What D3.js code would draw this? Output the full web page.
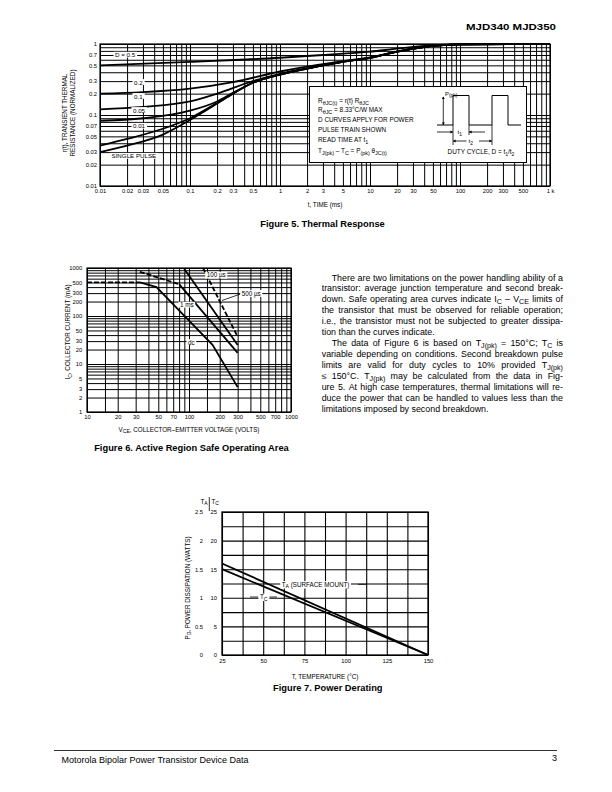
<!DOCTYPE html>
<html><head><meta charset="utf-8">
<script src="https://cdn.jsdelivr.net/npm/d3@7"></script>
<style>
html,body{margin:0;padding:0;background:#fff}
svg{display:block}
</style></head><body>
<svg id="page" width="612" height="792"></svg>
<script>
// ================= DATA =================
// Figure 5 – Thermal response (t in ms, r(t) normalized)
const fig5TimeTicks  = [0.01,0.02,0.03,0.05,0.1,0.2,0.3,0.5,1,2,3,5,10,20,30,50,100,200,300,500,1000];
const fig5TimeLabels = ["0.01","0.02","0.03","0.05","0.1","0.2","0.3","0.5","1","2","3","5","10","20","30","50","100","200","300","500","1 k"];
const fig5RTicks  = [1,0.7,0.5,0.3,0.2,0.1,0.07,0.05,0.03,0.02,0.01];
const fig5RLabels = ["1","0.7","0.5","0.3","0.2","0.1","0.07","0.05","0.03","0.02","0.01"];
const curveD05    = [[0.01,0.5],[0.1,0.56],[1,0.64],[3,0.7],[10,0.78],[20,0.86],[50,0.96],[100,0.99],[1000,1]];
const curveD02    = [[0.01,0.2],[0.03,0.21],[0.1,0.235],[0.3,0.29],[1,0.41],[2,0.48],[3,0.52],[5,0.575],[10,0.65],[20,0.78],[50,0.94],[100,0.99],[1000,1]];
const curveD01    = [[0.01,0.12],[0.03,0.13],[0.1,0.155],[0.2,0.2],[0.5,0.3],[1,0.38],[2,0.455],[3,0.5],[5,0.565],[10,0.64],[20,0.78],[50,0.94],[100,0.99],[1000,1]];
const curveD005   = [[0.01,0.083],[0.03,0.09],[0.1,0.115],[0.2,0.155],[0.3,0.205],[0.5,0.285],[1,0.37],[2,0.45],[3,0.5],[5,0.56],[10,0.64],[20,0.78],[50,0.94],[100,0.99],[1000,1]];
const curveD001   = [[0.01,0.037],[0.02,0.046],[0.05,0.064],[0.1,0.09],[0.2,0.148],[0.3,0.2],[0.5,0.285],[1,0.37],[2,0.45],[3,0.5],[5,0.56],[10,0.64],[20,0.78],[50,0.94],[100,0.99],[1000,1]];
const curveSingle = [[0.01,0.03],[0.02,0.037],[0.05,0.053],[0.1,0.085],[0.2,0.145],[0.3,0.2],[0.5,0.285],[1,0.37],[2,0.45],[3,0.5],[5,0.56],[10,0.64],[20,0.78],[50,0.94],[100,0.99],[1000,1]];
const fig5CurveNames = ["D = 0.5","0.2","0.1","0.05","0.01","SINGLE PULSE"];

// Figure 6 – Safe operating area (VCE volts, IC mA)
const fig6VTicks  = [10,20,30,50,70,100,200,300,500,700,1000];
const fig6VLabels = ["10","20","30","50","70","100","200","300","500","700","1000"];
const fig6ITicks  = [1000,500,300,200,100,50,30,20,10,5,3,2,1];
const fig6ILabels = ["1000","500","300","200","100","50","30","20","10","5","3","2","1"];
const socDcDashed  = [[10,500],[33,500]];
const socDc        = [[33,500],[48,400],[100,80],[170,25],[300,3.3]];
const soc1msDashed = [[33,830],[80,460]];
const soc1ms       = [[80,460],[300,17]];
const soc500us     = [[90,950],[300,25]];
const soc100us     = [[137,1000],[300,37]];

// Figure 7 – Power derating
const fig7TempTicks = [25,50,75,100,125,150];
const fig7TATicks   = [0,0.5,1,1.5,2,2.5];
const fig7TCTicks   = [0,5,10,15,20,25];
const fig7Temp      = [25,150];
const fig7PdTA      = [1.6,0];   // watts, T_A (surface mount), left scale
const fig7PdTC      = [15,0];    // watts, T_C, right scale

// Body text
const paraLines = [
 {w:"There are two limitations on the power handling ability of a", indent:true, just:true},
 {w:"transistor: average junction temperature and second break-", just:true},
 {w:"down. Safe operating area curves indicate I_{C} – V_{CE} limits of", just:true},
 {w:"the transistor that must be observed for reliable operation;", just:true},
 {w:"i.e., the transistor must not be subjected to greater dissipa-", just:true},
 {w:"tion than the curves indicate.", just:false},
 {w:"The data of Figure 6 is based on T_{J(pk)} = 150°C; T_{C} is", indent:true, just:true},
 {w:"variable depending on conditions. Second breakdown pulse", just:true},
 {w:"limits are valid for duty cycles to 10% provided T_{J(pk)}", just:true},
 {w:"≤ 150°C. T_{J(pk)} may be calculated from the data in Fig-", just:true},
 {w:"ure 5. At high case temperatures, thermal limitations will re-", just:true},
 {w:"duce the power that can be handled to values less than the", just:true},
 {w:"limitations imposed by second breakdown.", just:false}
];

// ================= HELPERS =================
const FONT = '"Liberation Sans", Arial, Helvetica, sans-serif';
const svg = d3.select("#page");

function rich(g, x, y, str, size, opts = {}) {
  const t = g.append("text").attr("x", x).attr("y", y)
    .attr("font-size", size).attr("font-family", FONT).attr("fill", "#000");
  if (opts.anchor) t.attr("text-anchor", opts.anchor);
  if (opts.weight) t.attr("font-weight", opts.weight);
  if (opts.transform) t.attr("transform", opts.transform);
  const subShift = opts.sub ?? size * 0.28;
  const subSize = opts.subSize ?? 0.8;
  const parts = str.split(/(_\{[^}]*\})/);
  let cur = 0;
  parts.forEach(p => {
    if (!p) return;
    const m = p.match(/^_\{([^}]*)\}$/);
    if (m) { t.append("tspan").attr("dy", subShift - cur).attr("font-size", size * subSize).text(m[1]); cur = subShift; }
    else { t.append("tspan").attr("dy", -cur).text(p); cur = 0; }
  });
  return t;
}
function boxed(g, x, y, str, size, opts = {}) {
  const gg = g.append("g");
  const t = rich(gg, x, y, str, size, opts);
  const b = t.node().getBBox();
  const pad = opts.pad ?? 1.5;
  gg.insert("rect", "text").attr("x", b.x - pad).attr("y", b.y + 0.6)
    .attr("width", b.width + 2 * pad).attr("height", b.height - 1.2).attr("fill", "#fff");
  return gg;
}
function decadeGrid(lo, hi, mults) {
  const a = [];
  for (let e = lo; e < hi; e++) mults.forEach(m => a.push(+(m * Math.pow(10, e)).toPrecision(6)));
  a.push(Math.pow(10, hi));
  return a;
}
function grid(g, axisFn, scale, values, size, transform, sw) {
  g.append("g").attr("transform", transform)
    .call(axisFn(scale).tickValues(values).tickSize(size).tickFormat(""))
    .call(s => { s.select(".domain").remove(); s.selectAll("line").attr("stroke", "#000").attr("stroke-width", sw); });
}
function labels(g, axisFn, scale, values, labs, transform, pad, fs) {
  g.append("g").attr("transform", transform)
    .call(axisFn(scale).tickValues(values).tickSize(0).tickPadding(pad).tickFormat((d, i) => labs[i]))
    .call(s => { s.select(".domain").remove(); s.selectAll("line").remove();
      s.selectAll("text").attr("font-size", fs).attr("font-family", FONT).attr("fill", "#000"); });
}

// ================= HEADER / FOOTER =================
svg.append("text").attr("x", 556).attr("y", 29.5).attr("text-anchor", "end")
  .attr("font-family", FONT).attr("font-weight", 900).attr("font-size", 8.6)
  .attr("textLength", 90).attr("lengthAdjust", "spacingAndGlyphs").text("MJD340 MJD350");
svg.append("line").attr("x1", 54).attr("x2", 557).attr("y1", 750.5).attr("y2", 750.5).attr("stroke", "#000").attr("stroke-width", 0.8);
rich(svg, 61.5, 763, "Motorola Bipolar Power Transistor Device Data", 9);
rich(svg, 557, 760.5, "3", 9, {anchor: "end"});

// ================= FIGURE 5 =================
{
  const g = svg.append("g");
  const L = 100, R = 550, T = 44, B = 186;
  const x = d3.scaleLog().domain([0.01, 1000]).range([L, R]);
  const y = d3.scaleLog().domain([0.01, 1]).range([B, T]);
  const m9 = [1,2,3,4,5,6,7,8,9];
  grid(g, d3.axisBottom, x, decadeGrid(-2, 3, m9), -(B - T), `translate(0,${B})`, 1);
  grid(g, d3.axisLeft, y, decadeGrid(-2, 0, m9), -(R - L), `translate(${L},0)`, 1);
  g.append("rect").attr("x", L).attr("y", T).attr("width", R - L).attr("height", B - T)
    .attr("fill", "none").attr("stroke", "#000").attr("stroke-width", 1.2);
  labels(g, d3.axisBottom, x, fig5TimeTicks, fig5TimeLabels, `translate(0,${B})`, 2.6, 5.8);
  labels(g, d3.axisLeft, y, fig5RTicks, fig5RLabels, `translate(${L},0)`, 3, 5.8);

  const line = d3.line().x(d => x(d[0])).y(d => y(d[1])).curve(d3.curveMonotoneX);
  [curveD05, curveD02, curveD01, curveD005, curveD001, curveSingle].forEach(c => {
    g.append("path").attr("d", line(c)).attr("fill", "none").attr("stroke", "#000").attr("stroke-width", 1.8);
  });
  boxed(g, 115, 57.2, fig5CurveNames[0], 6.2);
  boxed(g, 134, 84.5, fig5CurveNames[1], 6.2);
  boxed(g, 134, 98.5, fig5CurveNames[2], 6.2);
  boxed(g, 133, 112.5, fig5CurveNames[3], 6.2);
  boxed(g, 133, 128.3, fig5CurveNames[4], 6.2);
  boxed(g, 111.5, 158.3, fig5CurveNames[5], 6.2);

  // info box
  g.append("rect").attr("x", 309.5).attr("y", 86.5).attr("width", 217).attr("height", 76)
    .attr("fill", "#fff").attr("stroke", "#000").attr("stroke-width", 1);
  const info = ["R_{θJC(t)} = r(t) R_{θJC}", "R_{θJC} = 8.33°C/W MAX", "D CURVES APPLY FOR POWER",
                "PULSE TRAIN SHOWN", "READ TIME AT t_{1}", "T_{J(pk)} – T_{C} = P_{(pk)} θ_{JC(t)}"];
  const infoY = [103, 112, 122.3, 132.3, 142.3, 153];
  info.forEach((s, i) => rich(g, 318, infoY[i], s, 6.4, {sub: 1.6, subSize: 0.85}));
  // pulse waveform diagram
  g.append("path").attr("d", "M437,125H453V95.5H469V125H492V95.5H508V125H521")
    .attr("fill", "none").attr("stroke", "#000").attr("stroke-width", 1);
  const tri = (cx, cy, dir) => {
    const s = 2.6, w = 1.5;
    let p;
    if (dir === "up") p = `M${cx},${cy}L${cx - w},${cy + s}L${cx + w},${cy + s}Z`;
    if (dir === "down") p = `M${cx},${cy}L${cx - w},${cy - s}L${cx + w},${cy - s}Z`;
    if (dir === "right") p = `M${cx},${cy}L${cx - s},${cy - w}L${cx - s},${cy + w}Z`;
    if (dir === "left") p = `M${cx},${cy}L${cx + s},${cy - w}L${cx + s},${cy + w}Z`;
    g.append("path").attr("d", p).attr("fill", "#000");
  };
  const ln = (x1, y1, x2, y2) => g.append("line").attr("x1", x1).attr("y1", y1).attr("x2", x2).attr("y2", y2).attr("stroke", "#000").attr("stroke-width", 0.8);
  ln(443.3, 97, 443.3, 125); tri(443.3, 96.5, "up"); tri(443.3, 125, "down");
  rich(g, 445, 95.5, "P_{(pk)}", 5.8, {sub: 1.5, subSize: 0.85});
  ln(453, 125, 453, 145); ln(469, 125, 469, 135); ln(492, 125, 492, 145);
  ln(437, 132, 453, 132); tri(453, 132, "right");
  ln(469, 132, 485, 132); tri(469, 132, "left");
  rich(g, 457.5, 134.3, "t_{1}", 6.2, {sub: 1.5});
  ln(453, 141, 466.5, 141); tri(453, 141, "left");
  ln(479, 141, 492, 141); tri(492, 141, "right");
  rich(g, 468.5, 143.3, "t_{2}", 6.2, {sub: 1.5});
  rich(g, 481, 154, "DUTY CYCLE, D = t_{1}/t_{2}", 6.4, {anchor: "middle", sub: 1.5});

  // axis titles
  rich(g, 67.2, 113, "r(t), TRANSIENT THERMAL", 6.3, {anchor: "middle", transform: "rotate(-90,67.2,113)"});
  rich(g, 74.6, 113, "RESISTANCE (NORMALIZED)", 6.3, {anchor: "middle", transform: "rotate(-90,74.6,113)"});
  rich(g, 325, 207.3, "t, TIME (ms)", 6.3, {anchor: "middle"});
  rich(g, 322.5, 226.5, "Figure 5. Thermal Response", 9.3, {anchor: "middle", weight: "bold"});
}

// ================= FIGURE 6 =================
{
  const g = svg.append("g");
  const L = 87, R = 291, T = 268, B = 412;
  const x = d3.scaleLog().domain([10, 1000]).range([L, R]);
  const y = d3.scaleLog().domain([1, 1000]).range([B, T]);
  grid(g, d3.axisBottom, x, decadeGrid(1, 3, [1,1.5,2,3,4,5,6,7,8,9]), -(B - T), `translate(0,${B})`, 1);
  grid(g, d3.axisLeft, y, decadeGrid(0, 3, [1,2,3,4,5,6,7,8,9]), -(R - L), `translate(${L},0)`, 1);
  g.append("rect").attr("x", L).attr("y", T).attr("width", R - L).attr("height", B - T)
    .attr("fill", "none").attr("stroke", "#000").attr("stroke-width", 1.2);
  labels(g, d3.axisBottom, x, fig6VTicks, fig6VLabels, `translate(0,${B})`, 3.2, 5.8);
  labels(g, d3.axisLeft, y, fig6ITicks, fig6ILabels, `translate(${L},0)`, 4.8, 5.8);

  const line = d3.line().x(d => x(d[0])).y(d => y(d[1]));
  const draw = (c, dash) => g.append("path").attr("d", line(c)).attr("fill", "none")
    .attr("stroke", "#000").attr("stroke-width", 1.8).attr("stroke-dasharray", dash ? "5,2" : null);
  draw(socDcDashed, true); draw(socDc, false);
  draw(soc1msDashed, true); draw(soc1ms, false);
  draw(soc500us, false); draw(soc100us, true);

  boxed(g, 206.7, 277.2, "100 µs", 6.3);
  g.append("line").attr("x1", 222).attr("y1", 300.5).attr("x2", 240.5).attr("y2", 294)
    .attr("stroke", "#000").attr("stroke-width", 0.8);
  boxed(g, 241.7, 295.5, "500 µs", 6.3);
  boxed(g, 180, 307.2, "1 ms", 6.3);
  boxed(g, 188, 344.5, "dc", 6.3);

  rich(g, 70, 332, "I_{C}, COLLECTOR CURRENT (mA)", 6.3, {anchor: "middle", transform: "rotate(-90,70,332)", sub: 1.6});
  rich(g, 189, 431.5, "V_{CE}, COLLECTOR–EMITTER VOLTAGE (VOLTS)", 6.3, {anchor: "middle", sub: 1.6});
  rich(g, 191.5, 450.8, "Figure 6. Active Region Safe Operating Area", 9.3, {anchor: "middle", weight: "bold"});
}

// ================= BODY TEXT =================
{
  const g = svg.append("g");
  const X0 = 321.7, X1 = 563, FS = 8.9;
  paraLines.forEach((ln, i) => {
    const yb = 280.5 + i * 10.98;
    const words = ln.w.split(" ");
    const start = ln.indent ? X0 + 10 : X0;
    const nodes = words.map(w => rich(g, 0, yb, w, FS, {sub: 1.3, subSize: 0.8}));
    const widths = nodes.map(n => n.node().getComputedTextLength());
    const total = d3.sum(widths);
    const gap = ln.just && words.length > 1 ? (X1 - start - total) / (words.length - 1) : FS * 0.278;
    let xx = start;
    nodes.forEach((n, k) => { n.attr("x", xx); xx += widths[k] + gap; });
  });
}

// ================= FIGURE 7 =================
{
  const g = svg.append("g");
  const L = 222, R = 428, T = 512, B = 655;
  const x = d3.scaleLinear().domain([25, 150]).range([L, R]);
  const yA = d3.scaleLinear().domain([0, 2.5]).range([B, T]);
  const yC = d3.scaleLinear().domain([0, 25]).range([B, T]);
  grid(g, d3.axisBottom, x, d3.range(25, 150.01, 12.5), -(B - T), `translate(0,${B})`, 1.1);
  grid(g, d3.axisLeft, yA, d3.range(0, 2.501, 0.25), -(R - L), `translate(${L},0)`, 1.1);
  g.append("rect").attr("x", L).attr("y", T).attr("width", R - L).attr("height", B - T)
    .attr("fill", "none").attr("stroke", "#000").attr("stroke-width", 1.3);
  labels(g, d3.axisBottom, x, fig7TempTicks, fig7TempTicks.map(String), `translate(0,${B})`, 4.3, 5.8);
  labels(g, d3.axisLeft, yA, fig7TATicks, fig7TATicks.map(String), `translate(${L},0)`, 19, 5.8);
  labels(g, d3.axisLeft, yC, fig7TCTicks, fig7TCTicks.map(String), `translate(${L},0)`, 5, 5.8);

  const lA = d3.line().x((d, i) => x(fig7Temp[i])).y(d => yA(d));
  const lC = d3.line().x((d, i) => x(fig7Temp[i])).y(d => yC(d));
  g.append("path").attr("d", lA(fig7PdTA)).attr("fill", "none").attr("stroke", "#000").attr("stroke-width", 1.8);
  g.append("path").attr("d", lC(fig7PdTC)).attr("fill", "none").attr("stroke", "#000").attr("stroke-width", 1.8);

  boxed(g, 281.7, 586.5, "T_{A} (SURFACE MOUNT)", 6.3, {sub: 1.6});
  g.append("line").attr("x1", 358).attr("x2", 367).attr("y1", 584.3).attr("y2", 584.3).attr("stroke", "#000").attr("stroke-width", 0.8);
  boxed(g, 260, 599, "T_{C}", 6.3, {sub: 1.6});
  g.append("line").attr("x1", 250).attr("x2", 258).attr("y1", 597).attr("y2", 597).attr("stroke", "#000").attr("stroke-width", 0.8);
  g.append("line").attr("x1", 269.5).attr("x2", 277).attr("y1", 597).attr("y2", 597).attr("stroke", "#000").attr("stroke-width", 0.8);

  rich(g, 200.5, 503.5, "T_{A}", 6.3, {sub: 1.6});
  rich(g, 211.5, 503.5, "T_{C}", 6.3, {sub: 1.6});
  g.append("line").attr("x1", 209.3).attr("x2", 209.3).attr("y1", 497).attr("y2", 511).attr("stroke", "#000").attr("stroke-width", 0.8);

  rich(g, 189.8, 588, "P_{D}, POWER DISSIPATION (WATTS)", 6.3, {anchor: "middle", transform: "rotate(-90,189.8,588)", sub: 1.6});
  rich(g, 325, 679, "T, TEMPERATURE (°C)", 6.3, {anchor: "middle"});
  rich(g, 327.8, 690.5, "Figure 7. Power Derating", 9.3, {anchor: "middle", weight: "bold"});
}
</script>
</body></html>
